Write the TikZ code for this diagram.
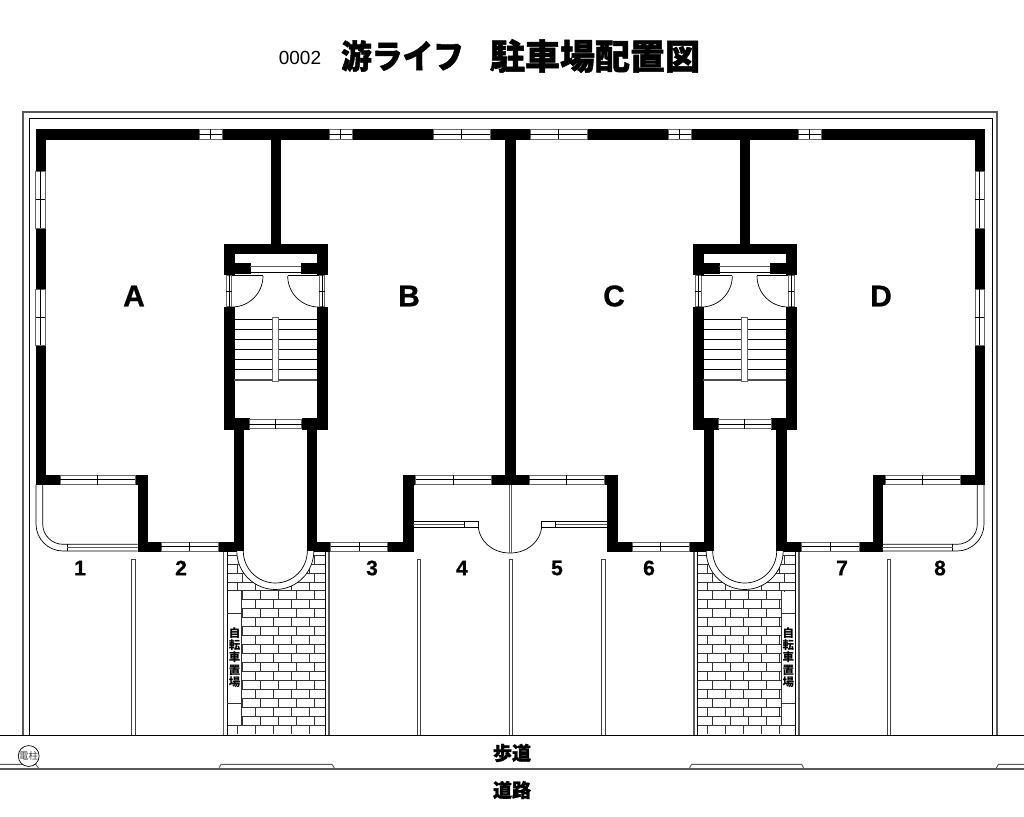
\documentclass[tikz,border=0pt]{standalone}
\usepackage{fontspec}
\setmainfont{Liberation Sans}
\newfontfamily\cjk{Noto Sans CJK JP}
\newfontfamily\cjkheavy[BoldFeatures={FakeBold=1.4}]{Noto Sans CJK JP}
\newfontfamily\heavy[BoldFeatures={FakeBold=0.8}]{Liberation Sans}
\tikzset{
  wall/.style={fill=black,draw=black,line width=0.3pt},
  win/.style={fill=white,draw=black!60,line width=0.6pt},
  thin/.style={draw=black,line width=0.7pt},
  pale/.style={draw=black!65,line width=1.1pt},
  brick/.style={draw=black!80,line width=0.8pt},
  room/.style={font=\heavy\bfseries\fontsize{30}{30}\selectfont},
  lot/.style={font=\heavy\bfseries\fontsize{21}{21}\selectfont},
  jp/.style={font=\cjkheavy\bfseries\fontsize{#1}{#1}\selectfont},
  shed/.style={font=\cjk\bfseries\fontsize{11.5}{12.2}\selectfont,align=center,inner sep=0pt}
}
% window in a horizontal wall: x1 x2 y1 y2
\newcommand{\hwin}[4]{
\draw[win](#1,#3) rectangle (#2,#4);
\draw[thin](#1,{(#3+#4)/2})--(#2,{(#3+#4)/2});
\draw[thin]({(#1+#2)/2},#3)--({(#1+#2)/2},#4);
}
% window in a vertical wall: x1 x2 y1 y2
\newcommand{\vwin}[4]{
\draw[win](#1,#3) rectangle (#2,#4);
\draw[thin]({(#1+#2)/2},#3)--({(#1+#2)/2},#4);
\draw[thin](#1,{(#3+#4)/2})--(#2,{(#3+#4)/2});
}
% paving: x1 x2 first joint
\newcommand{\bricks}[3]{
\begin{scope}
\clip (#1,555) rectangle (#2,735);
\foreach \k in {0,...,19}{
  \pgfmathsetmacro\rowy{555+8.97*\k}
  \pgfmathsetmacro\jx{#3+5*(1-mod(\k,2))}
  \draw[brick](#1,\rowy)--(#2,\rowy);
  \foreach \j in {0,...,5}
    \draw[brick]({\jx+18*\j},\rowy)--++(0,8.97);
}
\end{scope}
}
% one half of the block, left of the middle wall
\newcommand{\halfplan}{
\fill[wall](35.7,129) rectangle (510,139);
\fill[wall](35.7,129) rectangle (45,484.5);
\fill[wall](271,139) rectangle (280,244);
\fill[wall](505,129) rectangle (510,484.5);
% stair head
\fill[wall](224,244) rectangle (326.7,253.5);
\fill[wall](224,244) rectangle (234,274);
\fill[wall](316.7,244) rectangle (326.7,274);
\fill[wall](234,262.7) rectangle (250,272.7);
\fill[wall](300.7,262.7) rectangle (316.7,272.7);
\draw[pale](250,266.7)--(300.7,266.7);
\draw[thin](250,272.7)--(300.7,272.7);
% stair well
\fill[wall](224,307) rectangle (234,428.7);
\fill[wall](316.7,307) rectangle (326.7,428.7);
\fill[wall](224,418.3) rectangle (249,428.7);
\fill[wall](301.7,418.3) rectangle (326.7,428.7);
\foreach \ty in {319.3,329.4,339.5,349.6,359.7,369.8}
  \draw[thin,line width=0.9pt](234,\ty)--(316.7,\ty);
\draw[thin,draw=black!70,line width=1.2pt](234,380)--(316.7,380);
\draw[win,line width=0.9pt](272.7,317.7) rectangle (278.3,381.7);
% doors
\vwin{226}{231.7}{275}{306.7}
\vwin{319}{324.7}{275}{306.7}
\draw[thin](232,275.5)--(263,275.5);
\draw[thin](287.7,275.5)--(318.7,275.5);
\draw[thin](232,307) arc[start angle=270,end angle=360,radius=31pt];
\draw[thin](318.7,307) arc[start angle=270,end angle=180,radius=31pt];
% corridor and front walls
\fill[wall](234.3,428) rectangle (243.5,551);
\fill[wall](306.7,428) rectangle (316,551);
\fill[wall](218.3,542.3) rectangle (243.5,551);
\fill[wall](306.7,542.3) rectangle (330.7,551);
\fill[wall](137.7,542.3) rectangle (161,551);
\fill[wall](137.7,475) rectangle (147,551);
\fill[wall](35.7,475) rectangle (60,484.5);
\fill[wall](135,475) rectangle (147,484.5);
\fill[wall](387.7,542.3) rectangle (413.3,551);
\fill[wall](403.3,475) rectangle (413.3,551);
\fill[wall](403.3,475) rectangle (415.7,484.5);
\fill[wall](491,475) rectangle (510,484.5);
% windows
\hwin{199}{222}{129}{139}
\hwin{329}{352}{129}{139}
\hwin{433}{490}{129}{139}
\vwin{35.7}{45}{171}{228}
\vwin{35.7}{45}{289}{345}
\hwin{249}{301.7}{419}{428.7}
\hwin{60}{135}{475}{484.5}
\hwin{415.7}{491}{475}{484.5}
\hwin{161}{218.3}{542.3}{551}
\hwin{330.7}{387.7}{542.3}{551}
% balcony
\draw[thin](36,484.5)--(36,524) arc[start angle=180,end angle=270,radius=27pt]--(67.3,551)--(137.7,551);
\draw[thin](42.7,484.5)--(42.7,524) arc[start angle=180,end angle=270,radius=20.3pt]--(67.3,544.3)--(137.7,544.3);
\draw[thin](67.3,544.3)--(67.3,551);
\draw[pale,line width=0.7pt](67.3,547)--(137.7,547);
% entrance arch
\draw[thin,fill=white](236.8,551) arc[start angle=180,end angle=360,radius=38.5pt];
\draw[thin](243.3,551) arc[start angle=180,end angle=360,radius=32pt];
% rail and door at the middle
\draw[thin](413.3,521)--(478.3,521)--(478.3,527.7)--(413.3,527.7);
\draw[pale,line width=0.7pt](413.3,524.3)--(464.3,524.3);
\draw[thin](464.3,521)--(464.3,527.7);
\draw[thin](478.3,527.7) .. controls (480,541) and (492,553) .. (510,553);
}
\begin{document}
\begin{tikzpicture}[x=1pt,y=-1pt]
\useasboundingbox (0,0) rectangle (1024,816);
% title
\node[font=\fontsize{19}{19}\selectfont] (number) at (300,58) {0002};
\node[jp=33,xscale=0.93] (title1) at (402.5,56) {游ライフ};
\node[jp=35] (title2) at (595,56) {駐車場配置図};
% site outline
\draw[pale](23,735)--(23,112)--(997,112)--(997,735);
\draw[thin](29,735)--(29,118)--(992,118)--(992,735);
% paving
\bricks{227.3}{325}{237}
\bricks{697.3}{795}{707.3}
\draw[pale](223.3,551)--(223.3,735);
\draw[thin](227.3,551)--(227.3,735);
\draw[thin](325,551)--(325,735);
\draw[pale](329,551)--(329,735);
\draw[pale](694,551)--(694,735);
\draw[thin](697.3,551)--(697.3,735);
\draw[thin](795,551)--(795,735);
\draw[pale](799,551)--(799,735);
% bicycle bays
\fill[white](227.7,591.5) rectangle (241.5,725);
\draw[brick](241.5,591)--(241.5,725.5);
\draw[brick](227.3,613.3)--(241.5,613.3);
\draw[brick](227.3,703)--(241.5,703);
\fill[white](781.5,591.5) rectangle (794.6,725);
\draw[brick](781.5,591)--(781.5,725.5);
\draw[brick](781.5,613.3)--(795,613.3);
\draw[brick](781.5,703)--(795,703);
\node[shed] (bay1) at (234.5,657.5) {自\\転\\車\\置\\場};
\node[shed] (bay2) at (788.3,657.5) {自\\転\\車\\置\\場};
% the two halves of the block
\halfplan
\begin{scope}[xshift=1020pt,xscale=-1]
\halfplan
\end{scope}
\draw[pale,line width=0.7pt](509,484.5)--(509,553);
\draw[pale,line width=0.7pt](511.7,484.5)--(511.7,553);
% parking dividers
\foreach \px in {131.7,417.3,509.3,601.7,887.3}
  \draw[win,draw=black!75,line width=0.9pt](\px,559) rectangle (\px+3.4,735);
% road
\draw[thin,line width=1pt](0,735)--(1024,735);
\draw[pale](0,769)--(1024,769);
\draw[pale,line width=0.9pt](0,764.3)--(35.7,764.3)--(39.3,769);
\draw[pale,line width=0.9pt](218.5,769)--(221,764.3)--(332,764.3)--(335,769);
\draw[pale,line width=0.9pt](689,769)--(691.5,764.3)--(801.7,764.3)--(804,769);
\draw[pale,line width=0.9pt](995.7,769)--(998.5,764.3)--(1024,764.3);
\node[draw=black,fill=white,circle,minimum size=20pt,inner sep=0pt,line width=0.7pt,text=black!75,font=\cjk\fontsize{9.5}{9.5}\selectfont] (pole) at (28.7,756) {電柱};
\node[jp=19] (walk) at (512,753) {歩道};
\node[jp=19] (road) at (512,790) {道路};
% rooms and parking numbers
\node[room] (roomA) at (134,296) {A};
\node[room] (roomB) at (409,296) {B};
\node[room] (roomC) at (614,296) {C};
\node[room] (roomD) at (881,296) {D};
\node[lot] (lot1) at (80,568) {1};
\node[lot] (lot2) at (181,568) {2};
\node[lot] (lot3) at (372,568) {3};
\node[lot] (lot4) at (462,568) {4};
\node[lot] (lot5) at (557,568) {5};
\node[lot] (lot6) at (649,568) {6};
\node[lot] (lot7) at (842,568) {7};
\node[lot] (lot8) at (940,568) {8};
\end{tikzpicture}
\end{document}
